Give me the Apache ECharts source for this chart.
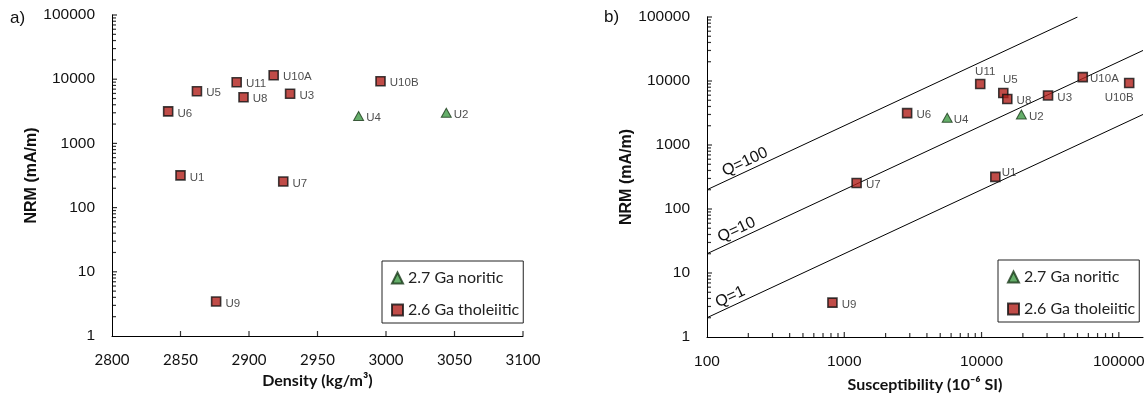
<!DOCTYPE html>
<html><head><meta charset="utf-8">
<script src="https://cdn.jsdelivr.net/npm/echarts@6/dist/echarts.min.js"></script>
<style>html,body{margin:0;padding:0;background:#fff}#c{width:1148px;height:399px}</style>
</head><body><div id="c"></div>
<script>
// ---------- data ----------
const sampleNames   = ['U1','U2','U3','U4','U5','U6','U7','U8','U9','U10A','U10B','U11'];
const sampleGroup   = ['T','N','T','N','T','T','T','T','T','T','T','T']; // N = 2.7 Ga noritic, T = 2.6 Ga tholeiitic
const density       = [2850,3044,2930,2980,2862,2841,2925,2896,2876,2918,2996,2891];      // kg/m3
const nrm           = [318,3000,5950,2670,6500,3150,255,5230,3.45,11500,9300,8970];       // mA/m
const susceptibility= [12600,19500,30500,5620,14400,2870,1230,15400,820,54600,119000,9780]; // 1e-6 SI
const groupNames    = ['2.7 Ga noritic','2.6 Ga tholeiitic'];
const groupKeys     = ['N','T'];
const qValues       = [1,10,100];
const qLabelK       = [148,165,190];   // susceptibility where each Q label sits
const nrmPerQk      = 0.02;            // NRM = 0.02 * Q * k
const densityTicks  = [2850,2900,2950,3000,3050,3100];
const nrmMajorTicks = [10,100,1000,10000,100000];
const suscMajorTicks= [1000,10000,100000];
const minorMultiples= [2,3,4,5,6,7,8,9];
const nrmDecades    = [1,10,100,1000,10000];
const suscDecades   = [100,1000,10000];

// ---------- styles ----------
const SANS = '"Liberation Sans", Arial, sans-serif';
const CAL = 'Lato, "Open Sans", sans-serif';
const groupStyle = {
  N: {symbol:'triangle', symbolSize:[10,9], itemStyle:{color:'#3e9a45', borderColor:'#1a3a1a', borderWidth:1}},
  T: {symbol:'rect', symbolSize:9, itemStyle:{color:'#b01f1a', borderColor:'#111', borderWidth:1.6}}
};
const labelB = {
  U11:{position:'top', distance:1, offset:[5,0]},
  U5:{position:'top', distance:1.5, offset:[7,0]},
  U10B:{position:'bottom', distance:4, offset:[-10,0]},
  U1:{position:'right', distance:1, offset:[0,-4]},
  U4:{position:'right', distance:1, offset:[0,2]},
  U10A:{position:'right', distance:2, offset:[0,2]}
};
function fmtLog(v){
  const l = Math.log10(v);
  if (Math.abs(l - Math.round(l)) > 1e-6) return '';
  return String(Math.round(v));
}
const axisLineStyle = {lineStyle:{color:'#000', width:1}};

const series = [];
[0,1].forEach(chart => {
  groupKeys.forEach((g, gi) => {
    const data = [];
    sampleNames.forEach((n, i) => {
      if (sampleGroup[i] !== g) return;
      const x = chart === 0 ? density[i] : susceptibility[i];
      let lab = {position:'right', distance: g==='N'?2:4, offset:[0,2]};
      if (chart === 1 && labelB[n]) lab = labelB[n];
      data.push({name:n, value:[x, nrm[i]], label:lab});
    });
    series.push({
      type:'scatter', name: groupNames[gi], xAxisIndex:chart, yAxisIndex:chart,
      symbol: groupStyle[g].symbol, symbolSize: groupStyle[g].symbolSize,
      itemStyle: groupStyle[g].itemStyle, z: 5,
      label:{show:true, formatter:'{b}', color:'#222', fontFamily:SANS, fontSize:11.5},
      emphasis:{disabled:true},
      data
    });
  });
});
const kMin = 100, kMax = 150000, nMax = 100000, dMin = 2800, nMin = 1;
qValues.forEach((q, qi) => {
  const kEnd = Math.min(kMax, nMax / (nrmPerQk * q));
  series.push({
    type:'line', xAxisIndex:1, yAxisIndex:1, symbol:'none', silent:true, z:2,
    lineStyle:{color:'#000', width:1},
    data:[[kMin, nrmPerQk*q*kMin],[kEnd, nrmPerQk*q*kEnd]],
    markPoint:{
      symbol:'circle', symbolSize:0, silent:true,
      label:{show:true, position:'inside', formatter:'Q=' + q, rotate:25, offset:[4,-9],
             color:'#111', fontFamily:SANS, fontSize:16},
      data:[{coord:[qLabelK[qi], nrmPerQk*q*qLabelK[qi]]}]
    }
  });
});

// axis ticks (inside), placed through each axis' own scale as thin marks
function minorList(decades){ const out=[]; decades.forEach(d=>minorMultiples.forEach(m=>out.push(m*d))); return out; }
function tickSeries(idx, points, size, offset){
  return {type:'scatter', xAxisIndex:idx, yAxisIndex:idx, symbol:'rect', symbolSize:size, symbolOffset:offset,
    itemStyle:{color:'#000'}, silent:true, clip:false, z:3, emphasis:{disabled:true}, label:{show:false},
    data: points};
}
series.push(tickSeries(0, nrmMajorTicks.map(v=>[dMin, v]), [5,1.2], [2.5,0]));
series.push(tickSeries(0, minorList(nrmDecades).map(v=>[dMin, v]), [4,1.2], [2,0]));
series.push(tickSeries(0, densityTicks.map(v=>[v, nMin]), [1.2,5], [0,-2.5]));
series.push(tickSeries(1, nrmMajorTicks.map(v=>[kMin, v]), [5,1.2], [2.5,0]));
series.push(tickSeries(1, minorList(nrmDecades).map(v=>[kMin, v]), [4,1.2], [2,0]));
series.push(tickSeries(1, suscMajorTicks.map(v=>[v, nMin]), [1.2,5], [0,-2.5]));
series.push(tickSeries(1, minorList(suscDecades).map(v=>[v, nMin]), [1.2,4], [0,-2]));

const legendCommon = {
  orient:'vertical', data:groupNames, itemWidth:11, itemHeight:11, itemGap:14,
  borderColor:'#222', borderWidth:1, padding:[8,4,4,9], selectedMode:false,
  textStyle:{fontFamily:CAL, fontSize:16, color:'#222', lineHeight:18}
};
const noTick = {show:false};

const option = {
  animation:false,
  backgroundColor:'#fff',
  grid:[
    {left:112, top:15, width:411, height:321},
    {left:707, top:17, width:436, height:320}
  ],
  xAxis:[
    {type:'value', gridIndex:0, min:dMin, max:3100, interval:50,
     name:'Density (kg/m³)', nameLocation:'middle', nameGap:37,
     nameTextStyle:{fontFamily:CAL, fontWeight:'bold', fontSize:16, color:'#111'},
     axisLine:axisLineStyle, axisTick:noTick, splitLine:{show:false},
     axisLabel:{fontFamily:CAL, fontSize:15, color:'#111', margin:17, formatter:v=>String(v)}},
    {type:'log', logBase:10, gridIndex:1, min:kMin, max:kMax,
     name:'Susceptibility (10⁻⁶ SI)', nameLocation:'middle', nameGap:40,
     nameTextStyle:{fontFamily:CAL, fontWeight:'bold', fontSize:16, color:'#111'},
     axisLine:axisLineStyle, axisTick:noTick, splitLine:{show:false},
     axisLabel:{fontFamily:SANS, fontSize:15.5, color:'#111', margin:17, formatter:fmtLog}}
  ],
  yAxis:[
    {type:'log', logBase:10, gridIndex:0, min:nMin, max:nMax,
     name:'NRM (mA/m)', nameLocation:'middle', nameGap:72,
     nameTextStyle:{fontFamily:SANS, fontWeight:'bold', fontSize:16, color:'#111'},
     axisLine:axisLineStyle, axisTick:noTick, splitLine:{show:false},
     axisLabel:{fontFamily:SANS, fontSize:15.5, color:'#111', margin:17, formatter:fmtLog}},
    {type:'log', logBase:10, gridIndex:1, min:nMin, max:nMax,
     name:'NRM (mA/m)', nameLocation:'middle', nameGap:72,
     nameTextStyle:{fontFamily:SANS, fontWeight:'bold', fontSize:16, color:'#111'},
     axisLine:axisLineStyle, axisTick:noTick, splitLine:{show:false},
     axisLabel:{fontFamily:SANS, fontSize:15.5, color:'#111', margin:17, formatter:fmtLog}}
  ],
  legend:[
    Object.assign({left:382, top:261}, legendCommon),
    Object.assign({left:998, top:260}, legendCommon)
  ],
  graphic:[
    {type:'text', left:10, top:10, style:{text:'a)', font:'17px "Liberation Sans", Arial', fill:'#111'}},
    {type:'text', left:604, top:9, style:{text:'b)', font:'17px "Liberation Sans", Arial', fill:'#111'}}
  ],
  series
};
const chart = echarts.init(document.getElementById('c'), null, {renderer:'canvas'});
chart.setOption(option);
</script></body></html>
